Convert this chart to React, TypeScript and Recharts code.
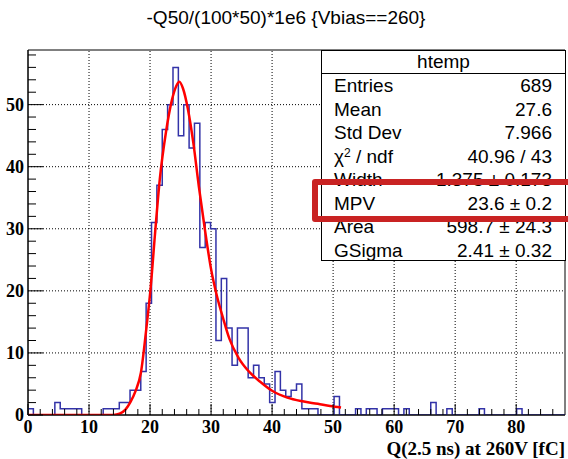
import React from "react";
import {
  ComposedChart,
  Line,
  XAxis,
  YAxis,
  ReferenceLine,
  ReferenceArea,
} from "recharts";

const chartTitle = "-Q50/(100*50)*1e6 {Vbias==260}";
const xAxisTitle = "Q(2.5 ns) at 260V [fC]";

// htemp: 100 bins from 0 to 88
const binWidth = 0.88;
const binCounts = [
  1, 0, 0, 0, 0, 2, 1, 1, 1, 1,
  0, 0, 0, 0, 1, 1, 1, 2, 2, 4,
  4, 7, 18, 31, 37, 46, 50, 56, 45, 50,
  43, 47, 27, 31, 30, 12, 22, 14, 8, 14,
  14, 6, 8, 6, 5, 2, 7, 4, 3, 4,
  5, 1, 1, 1, 0, 0, 0, 3, 0, 0,
  0, 1, 0, 1, 1, 0, 1, 1, 1, 0,
  1, 0, 0, 0, 0, 2, 0, 0, 1, 0,
  0, 0, 0, 0, 1, 0, 0, 0, 0, 0,
  0, 1, 0, 0, 0, 0, 0, 0, 0, 0,
];

// landau (x) gauss fit
const fitX = [
  0, 14, 15, 16, 16.8, 17.6, 18.5, 19.4, 20.1, 20.8, 21.6, 22.6, 23.6, 24.3,
  24.8, 25.4, 26.2, 27.1, 28.0, 29.0, 30.0, 31.0, 32.0, 33.0, 34.5, 36.3, 38.0,
  40.0, 42.5, 45.0, 47.5, 49.5, 51.3,
];
const fitY = [
  0, 0, 0.2, 0.9, 2.1, 3.8, 6.8, 14, 20.5, 29, 38, 45.5, 50.8, 53, 53.7, 52.6,
  49.3, 43.8, 36.8, 29.8, 23.5, 19, 15.5, 12.3, 9.2, 6.9, 5.4, 3.9, 2.8, 2.2,
  1.8, 1.45, 1.2,
];

const xMax = 88;
const yMax = 58.8;
const xGridValues = [10, 20, 30, 40, 50, 60, 70, 80];
const yGridValues = [10, 20, 30, 40, 50];
const xTickValues = Array.from({ length: 44 }, (_, i) => i * 2);
const yTickValues = Array.from({ length: 30 }, (_, i) => i * 2);

const statsRows: [React.ReactNode, string][] = [
  ["Entries", "689"],
  ["Mean", "27.6"],
  ["Std Dev", "7.966"],
  [
    <span key="chi">
      χ<sup style={{ fontSize: 12, verticalAlign: "6px", lineHeight: 0 }}>2</sup> / ndf
    </span>,
    "40.96 / 43",
  ],
  ["Width", "1.375 ± 0.173"],
  ["MPV", "23.6 ± 0.2"],
  ["Area", "598.7 ± 24.3"],
  ["GSigma", "2.41 ± 0.32"],
];

const histData = [
  ...binCounts.map((c, i) => ({ x: i * binWidth, y: c })),
  { x: xMax, y: binCounts[binCounts.length - 1] },
];
const fitData = fitX.map((x, i) => ({ x, y: fitY[i] }));

const SANS = '"Liberation Sans", Arial, sans-serif';
const SERIF = '"Liberation Serif", "Times New Roman", serif';

function renderXTick(props: any) {
  const { x, y, payload } = props;
  const major = payload.value % 10 === 0;
  return (
    <g key={`xt${payload.value}`}>
      <line x1={x} x2={x} y1={y} y2={y - (major ? 11 : 6)} stroke="#000" />
      {major && (
        <text
          x={x}
          y={y + 18}
          textAnchor="middle"
          fontFamily={SERIF}
          fontWeight="bold"
          fontSize={18}
          fill="#000"
        >
          {payload.value}
        </text>
      )}
    </g>
  );
}

function renderYTick(props: any) {
  const { x, y, payload } = props;
  const major = payload.value % 10 === 0;
  return (
    <g key={`yt${payload.value}`}>
      <line x1={x} x2={x + (major ? 15 : 8)} y1={y} y2={y} stroke="#000" />
      {major && (
        <text
          x={x - 4}
          y={y + 6}
          textAnchor="end"
          fontFamily={SERIF}
          fontWeight="bold"
          fontSize={18}
          fill="#000"
        >
          {payload.value}
        </text>
      )}
    </g>
  );
}

export default function App() {
  return (
    <div
      style={{
        position: "absolute",
        left: 0,
        top: 0,
        width: 568,
        height: 459,
        background: "#fff",
        overflow: "hidden",
      }}
    >
      <ComposedChart
        width={568}
        height={459}
        margin={{ top: 50, right: 3, bottom: 0, left: 0 }}
      >
        <XAxis
          dataKey="x"
          type="number"
          domain={[0, xMax]}
          ticks={xTickValues}
          allowDataOverflow
          height={44}
          tickSize={0}
          tickMargin={0}
          tick={renderXTick}
          axisLine={{ stroke: "#000" }}
          interval={0}
        />
        <YAxis
          type="number"
          domain={[0, yMax]}
          ticks={yTickValues}
          allowDataOverflow
          width={28}
          tickSize={0}
          tickMargin={0}
          tick={renderYTick}
          axisLine={{ stroke: "#000" }}
          interval={0}
        />
        {xGridValues.map((v) => (
          <ReferenceLine key={`gx${v}`} x={v} stroke="#000" strokeDasharray="1 2" />
        ))}
        {yGridValues.map((v) => (
          <ReferenceLine key={`gy${v}`} y={v} stroke="#000" strokeDasharray="1 2" />
        ))}
        <ReferenceArea
          x1={0}
          x2={xMax}
          y1={0}
          y2={yMax}
          fill="none"
          stroke="#000"
          strokeWidth={1}
        />
        <Line
          data={histData}
          dataKey="y"
          type="stepAfter"
          stroke="#3333a8"
          strokeWidth={1.5}
          dot={false}
          activeDot={false}
          isAnimationActive={false}
        />
        <Line
          data={fitData}
          dataKey="y"
          type="monotone"
          stroke="#ff0000"
          strokeWidth={2.5}
          dot={false}
          activeDot={false}
          isAnimationActive={false}
        />
      </ComposedChart>

      <div
        style={{
          position: "absolute",
          left: 0,
          width: 568,
          top: 6,
          textAlign: "center",
          fontFamily: SANS,
          fontSize: 19,
          lineHeight: "24px",
          paddingLeft: 2,
        }}
      >
        {chartTitle}
      </div>

      <div
        style={{
          position: "absolute",
          right: 3,
          top: 439,
          fontFamily: SERIF,
          fontWeight: "bold",
          fontSize: 19,
          lineHeight: "19px",
        }}
      >
        {xAxisTitle}
      </div>

      <div
        style={{
          position: "absolute",
          left: 321,
          top: 50,
          width: 245,
          height: 211,
          background: "#fff",
          border: "1px solid #000",
          boxSizing: "border-box",
          fontFamily: SANS,
          fontSize: 19,
          color: "#000",
        }}
      >
        <div
          style={{
            height: 22,
            lineHeight: "22px",
            textAlign: "center",
            borderBottom: "1px solid #000",
          }}
        >
          htemp
        </div>
        {statsRows.map(([label, value], i) => (
          <div
            key={i}
            style={{
              position: "absolute",
              left: 12,
              right: 13,
              top: 23 + i * 23.5,
              height: 23.5,
              lineHeight: "23.5px",
              display: "flex",
              justifyContent: "space-between",
              whiteSpace: "nowrap",
            }}
          >
            <span>{label}</span>
            <span>{value}</span>
          </div>
        ))}
      </div>

      <div
        style={{
          position: "absolute",
          left: 312,
          top: 179,
          width: 280,
          height: 43,
          border: "6px solid #c92323",
          borderRadius: 3,
          boxSizing: "border-box",
        }}
      />
    </div>
  );
}
